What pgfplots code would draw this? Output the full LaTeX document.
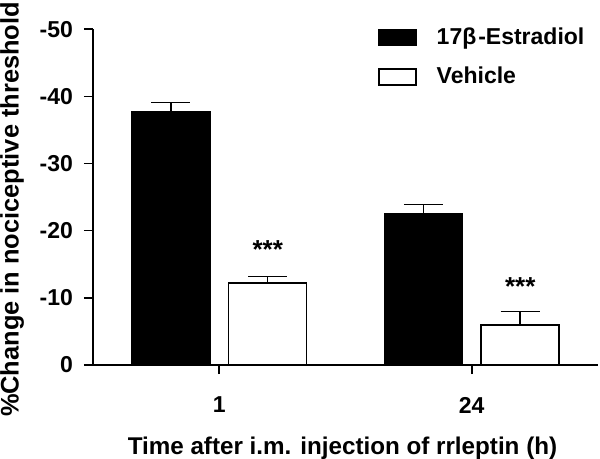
\documentclass[border=0pt]{standalone}
\usepackage{fontspec}
\setmainfont{Liberation Sans}
\usepackage{pgfplots}
\pgfplotsset{compat=1.18}
\begin{document}
\begin{tikzpicture}
\begin{axis}[
 scale only axis, width=252.5pt, height=167.9pt,
 ybar, bar width=0.309,
 xmin=-0.5, xmax=1.5, ymin=-50, ymax=0, y dir=reverse,
 axis x line*=bottom, axis y line*=left,
 axis line style={-, line width=0.75pt},
 xtick={0,1}, xticklabels={1,24},
 ytick={-50,-40,-30,-20,-10,0}, yticklabels={-50,-40,-30,-20,-10,0},
 tick align=outside, major tick length=4.5pt,
 tick style={line width=0.75pt, black},
 ticklabel style={font=\bfseries\fontsize{11.5}{13}\selectfont},
 xticklabel style={yshift=-8pt},
 yticklabel style={xshift=-2pt},
 xlabel={Time after i.m. injection of rrleptin (h)},
 ylabel={\%Change in nociceptive threshold},
 xlabel style={font=\bfseries\fontsize{12.1}{14}\selectfont, at={(axis description cs:0.494,-0.247)}, anchor=center},
 ylabel style={font=\bfseries\fontsize{12.7}{14}\selectfont, at={(axis description cs:-0.1604,0.463)}, anchor=center},
 legend style={at={(axis description cs:0.564,1.018)}, anchor=north west, draw=none, fill=none,
   inner sep=0pt, row sep=6pt, font=\bfseries\fontsize{11.5}{13}\selectfont,
   nodes={inner sep=2pt},
   /tikz/every odd column/.append style={column sep=8pt}},
 legend cell align=left,
 legend image code/.code={\draw[#1] (0pt,-4pt) rectangle (18.5pt,4pt);},
 clip=false,
]
\addplot[fill=black, draw=black, line width=0.75pt, bar shift=-0.192,
  error bars/.cd, y dir=minus, y explicit, error mark=|,
  error mark options={mark size=9.75pt, line width=0.75pt, black},
  error bar style={line width=0.75pt, black}]
  coordinates {(0,-37.7) +- (0,1.4) (1,-22.5) +- (0,1.4)};
\addplot[fill=white, draw=black, line width=0.75pt, bar shift=0.192,
  error bars/.cd, y dir=minus, y explicit, error mark=|,
  error mark options={mark size=9.75pt, line width=0.75pt, black},
  error bar style={line width=0.75pt, black}]
  coordinates {(0,-12.2) +- (0,1.0) (1,-5.95) +- (0,2.05)};
\legend{17β\kern1pt-Estradiol, Vehicle}
\node[font=\bfseries\fontsize{13}{15}\selectfont, anchor=base] at (axis cs:0.192,-15.8) {***};
\node[font=\bfseries\fontsize{13}{15}\selectfont, anchor=base] at (axis cs:1.192,-10.4) {***};
\coordinate (O) at (axis cs:-0.5,0);
\end{axis}
\pgfresetboundingbox
\path ([shift={(-46.5pt,-47pt)}]O) rectangle ++(300pt,229.5pt);
\end{tikzpicture}
\end{document}
